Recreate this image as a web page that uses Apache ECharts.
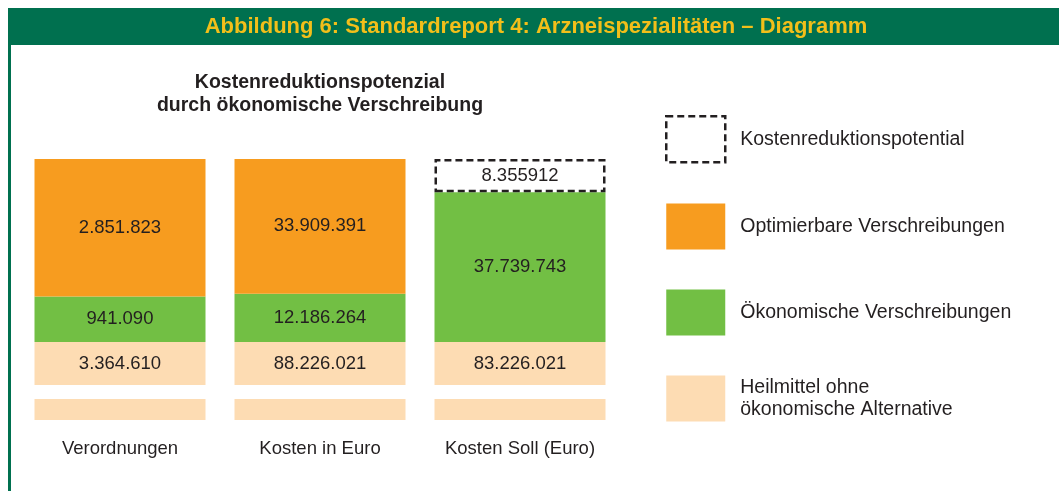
<!DOCTYPE html>
<html>
<head>
<meta charset="utf-8">
<title>Standardreport 4: Arzneispezialitäten – Diagramm</title>
<script src="https://cdn.jsdelivr.net/npm/echarts@6/dist/echarts.min.js"></script>
<style>
  html, body { margin: 0; padding: 0; background: #fff; }
  #chart { width: 1059px; height: 491px; }
</style>
</head>
<body>
<div id="chart"></div>
<script>
// Kategorien (x-Achse)
const categories = ["Verordnungen", "Kosten in Euro", "Kosten Soll (Euro)"];

// Werte je Balken
const optimierbar = [2851823, 33909391, null];
const oekonomisch = [941090, 12186264, 37739743];
const heilmittel = [3364610, 88226021, 83226021];
const potential = [null, null, 8355912];
const potentialText = ["", "", "8.355912"]; // so im Original gedruckt

// Legendennamen
const NAME_POT = "Kostenreduktionspotential";
const NAME_OPT = "Optimierbare Verschreibungen";
const NAME_OEK = "Ökonomische Verschreibungen";
const NAME_HEIL = "Heilmittel ohne ökonomische Alternative";

// schematischer Achsenbruch im Heilmittel-Block (Achseneinheiten)
const BRK = { stub: 11.5, gap: 7.6, top: 23.5 };

const INK = "#231f20";
const fmt = (v) => String(v).replace(/\B(?=(\d{3})+(?!\d))/g, ".");

// obere Segmente je Balken auf 100 normieren
const upperTotal = categories.map(
  (c, i) => (optimierbar[i] || 0) + (oekonomisch[i] || 0) + (potential[i] || 0)
);
const share = (arr) =>
  arr.map((v, i) => (v == null ? null : (v / upperTotal[i]) * 100));

const labelStyle = {
  show: true,
  position: "inside",
  color: INK,
  fontSize: 18.5,
  fontFamily: "Liberation Sans, Arial, sans-serif",
};

const chart = echarts.init(document.getElementById("chart"), null, { renderer: "canvas" });

chart.setOption({
  animation: false,
  textStyle: { fontFamily: "Liberation Sans, Arial, sans-serif" },
  graphic: [
    { type: "rect", shape: { x: 8, y: 8, width: 1051, height: 37 }, style: { fill: "#00704f" }, silent: true },
    { type: "rect", shape: { x: 8, y: 45, width: 3, height: 446 }, style: { fill: "#00704f" }, silent: true },
  ],
  title: [
    {
      text: "Abbildung 6: Standardreport 4: Arzneispezialitäten – Diagramm",
      left: 536,
      top: 14,
      padding: 0,
      textAlign: "center",
      textStyle: { color: "#f2bf1a", fontSize: 22, fontWeight: "bold", lineHeight: 26 },
    },
    {
      text: "Kostenreduktionspotenzial\ndurch ökonomische Verschreibung",
      left: 320,
      top: 71,
      padding: 0,
      textAlign: "center",
      textStyle: { color: INK, fontSize: 19.5, fontWeight: "bold", lineHeight: 23 },
    },
  ],
  legend: {
    orient: "vertical",
    left: 665,
    top: 115,
    padding: 0,
    icon: "rect",
    itemWidth: 59,
    itemHeight: 46,
    itemGap: 40,
    selectedMode: false,
    textStyle: { color: INK, fontSize: 19.5, lineHeight: 22, padding: [0, 0, 0, 10] },
    formatter: (name) => (name === NAME_HEIL ? "Heilmittel ohne\nökonomische Alternative" : name),
    data: [
      {
        name: NAME_POT,
        itemStyle: { color: "#fff", borderColor: INK, borderWidth: 2.5, borderType: [7, 4] },
      },
      NAME_OPT,
      NAME_OEK,
      NAME_HEIL,
    ],
  },
  grid: { left: 20, top: 159, width: 600, bottom: 71 },
  xAxis: {
    type: "category",
    data: categories,
    axisLine: { show: false },
    axisTick: { show: false },
    axisLabel: { color: INK, fontSize: 18.5, lineHeight: 20, margin: 18.5 },
  },
  yAxis: {
    type: "value",
    min: 0,
    max: 100 + BRK.stub + BRK.gap + BRK.top,
    show: false,
    splitLine: { show: false },
  },
  series: [
    {
      name: NAME_HEIL,
      type: "bar",
      stack: "a",
      barWidth: 171,
      silent: true,
      itemStyle: { color: "#fddcb3" },
      data: categories.map(() => BRK.stub),
    },
    {
      name: "_bruch",
      type: "bar",
      stack: "a",
      silent: true,
      itemStyle: { color: "rgba(0,0,0,0)" },
      data: categories.map(() => BRK.gap),
    },
    {
      name: NAME_HEIL,
      type: "bar",
      stack: "a",
      itemStyle: { color: "#fddcb3" },
      label: { ...labelStyle, formatter: (p) => fmt(heilmittel[p.dataIndex]) },
      data: heilmittel.map(() => BRK.top),
    },
    {
      name: NAME_OEK,
      type: "bar",
      stack: "a",
      itemStyle: { color: "#72bf44" },
      label: { ...labelStyle, formatter: (p) => fmt(oekonomisch[p.dataIndex]) },
      data: share(oekonomisch),
    },
    {
      name: NAME_OPT,
      type: "bar",
      stack: "a",
      itemStyle: { color: "#f79c1f" },
      label: { ...labelStyle, formatter: (p) => fmt(optimierbar[p.dataIndex]) },
      data: share(optimierbar),
    },
    {
      name: NAME_POT,
      type: "bar",
      stack: "a",
      itemStyle: { color: "#fff", borderColor: INK, borderWidth: 2.5, borderType: [7, 4] },
      label: { ...labelStyle, formatter: (p) => potentialText[p.dataIndex] },
      data: share(potential),
    },
  ],
});
</script>
</body>
</html>
